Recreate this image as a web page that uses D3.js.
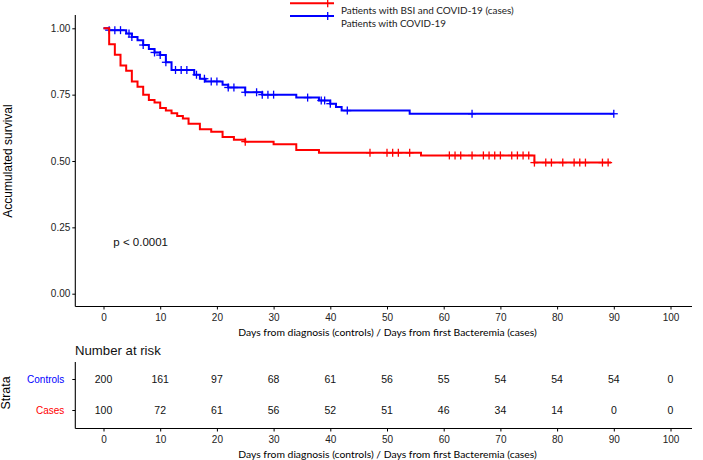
<!DOCTYPE html>
<html><head><meta charset="utf-8">
<script src="https://cdn.jsdelivr.net/npm/d3@7"></script>
<style>body{margin:0;background:#fff}svg{display:block}</style>
</head><body>
<svg id="c" width="703" height="460"></svg>
<script>
// ---- data ----
const casesTimes = [0,1,2,3,4,5,6,7,8,9,10,11,12,13,14,15,17,19,21,23,25,30,34,38,56,76,89.5];
const casesSurv  = [1,0.94,0.90,0.86,0.84,0.80,0.78,0.75,0.73,0.72,0.70,0.69,0.68,0.67,0.66,0.64,0.62,0.61,0.59,0.58,0.573,0.563,0.541,0.531,0.521,0.494,0.494];
const casesCensor = [25,47,50,51,52,54,61,62,63,65,67,68,69,70,72,73,74,75,76,78,79,81,83,84,85,88,89];

const ctrlTimes = [0,1,4,5,6,7,8,9,10,11,12,16,17,18,21,22,25,28,34,38,40,41,42,54,90];
const ctrlSurv  = [1,0.993,0.98,0.967,0.955,0.937,0.922,0.909,0.899,0.872,0.843,0.825,0.81,0.80,0.787,0.777,0.759,0.75,0.739,0.728,0.716,0.703,0.69,0.678,0.678];
const ctrlCensor = [1,2,3,4.5,5,7,9,10,11,12.7,13.7,14.7,16.4,17.8,19,20,22,23,25,27,28,29,30,36,38.4,39,40,43,65,90];

const xTicks = [0,10,20,30,40,50,60,70,80,90,100];
const yTicks = [0,0.25,0.5,0.75,1];
const riskControls = [200,161,97,68,61,56,55,54,54,54,0];
const riskCases    = [100,72,61,56,52,51,46,34,14,0,0];
const strata = ["Controls","Cases"];
const legendLabels = ["Patients with BSI and COVID-19 (cases)","Patients with COVID-19"];
const xTitle = "Days from diagnosis (controls) / Days from first Bacteremia (cases)";

// ---- layout ----
const RED = "#FF0000", BLUE = "#0000FF";
const svg = d3.select("#c");
const x = d3.scaleLinear().domain([0,100]).range([103.5,670.5]);
const y = d3.scaleLinear().domain([0,1]).range([293.7,28.3]);
const pL = 75.3, pR = 692, pT = 15, pB = 306.5;
const tickFont = "'Liberation Sans', Arial, sans-serif";
const calFont = "Lato, 'Open Sans', sans-serif";

function fitText(sel, w){
  const n = sel.node(); const fs = parseFloat(sel.attr("font-size"));
  const cur = n.getComputedTextLength();
  if (cur > 0) sel.attr("font-size", (fs*w/cur).toFixed(2));
}

// axes lines
svg.append("line").attr("x1",pL).attr("x2",pL).attr("y1",pT).attr("y2",pB).attr("stroke","#000").attr("stroke-width",1.1);
svg.append("line").attr("x1",pL).attr("x2",pR).attr("y1",pB).attr("y2",pB).attr("stroke","#000").attr("stroke-width",1.1);

const yAx = svg.append("g").attr("transform",`translate(${pL},0)`)
  .call(d3.axisLeft(y).tickValues(yTicks).tickFormat(d3.format(".2f")).tickSize(3).tickPadding(2));
yAx.select(".domain").remove();
yAx.selectAll("text").attr("font-family",tickFont).attr("font-size",10).attr("fill","#222");

const xAx = svg.append("g").attr("transform",`translate(0,${pB})`)
  .call(d3.axisBottom(x).tickValues(xTicks).tickSize(3).tickPadding(4));
xAx.select(".domain").remove();
xAx.selectAll("text").attr("font-family",tickFont).attr("font-size",10).attr("fill","#222");

// titles
svg.append("text").attr("transform","translate(12,161) rotate(-90)").attr("text-anchor","middle")
  .attr("font-family",tickFont).attr("font-size",12).text("Accumulated survival");
const xt1 = svg.append("text").attr("x",387.5).attr("y",335.5).attr("text-anchor","middle")
  .attr("font-family",calFont).attr("font-size",10.5).text(xTitle);
fitText(xt1, 299);

svg.append("text").attr("x",113.3).attr("y",245.5).attr("font-family",tickFont).attr("font-size",11.5).attr("fill","#111").text("p < 0.0001");

// curves
const line = d3.line().x(d=>x(d[0])).y(d=>y(d[1])).curve(d3.curveStepAfter);
function survAt(times, surv, t){ let v = surv[0]; for(let i=0;i<times.length;i++){ if(times[i]<=t) v=surv[i]; } return v; }
function drawCurve(times, surv, cens, col){
  const pts = times.map((t,i)=>[t,surv[i]]);
  svg.append("path").datum(pts).attr("d",line).attr("fill","none").attr("stroke",col).attr("stroke-width",2);
  const g = svg.append("g").attr("stroke",col).attr("stroke-width",1.3);
  cens.forEach(t=>{
    const cx = x(t), cy = y(survAt(times,surv,t));
    g.append("line").attr("x1",cx).attr("x2",cx).attr("y1",cy-4).attr("y2",cy+4);
    g.append("line").attr("x1",cx-4).attr("x2",cx+4).attr("y1",cy).attr("y2",cy);
  });
}
drawCurve(ctrlTimes, ctrlSurv, ctrlCensor, BLUE);
drawCurve(casesTimes, casesSurv, casesCensor, RED);

// legend
[[RED,3.3,legendLabels[0],173],[BLUE,16,legendLabels[1],105]].forEach(([col,ly,lab,w])=>{
  svg.append("line").attr("x1",290).attr("x2",334).attr("y1",ly).attr("y2",ly).attr("stroke",col).attr("stroke-width",2);
  svg.append("line").attr("x1",327.7).attr("x2",327.7).attr("y1",ly-4).attr("y2",ly+4).attr("stroke",col).attr("stroke-width",1.3);
  const t = svg.append("text").attr("x",341).attr("y",ly+10.5).attr("font-family",calFont).attr("font-size",11).attr("fill","#222").text(lab);
  fitText(t, w);
});

// ---- risk table ----
svg.append("text").attr("x",75).attr("y",355).attr("font-family",tickFont).attr("font-size",13.2).attr("fill","#111").text("Number at risk");
const rTop = 362, rBot = 428.5;
const ry = d3.scalePoint().domain(strata).range([379,410]);
svg.append("line").attr("x1",pL).attr("x2",pL).attr("y1",rTop).attr("y2",rBot).attr("stroke","#000").attr("stroke-width",1.1);
svg.append("line").attr("x1",pL).attr("x2",pR).attr("y1",rBot).attr("y2",rBot).attr("stroke","#000").attr("stroke-width",1.1);
const ryAx = svg.append("g").attr("transform",`translate(${pL},0)`).call(d3.axisLeft(ry).tickSize(3).tickPadding(8));
ryAx.select(".domain").remove();
ryAx.selectAll("text").attr("font-family",tickFont).attr("font-size",10).attr("fill",d=>d==="Controls"?BLUE:RED);
const rxAx = svg.append("g").attr("transform",`translate(0,${rBot})`)
  .call(d3.axisBottom(x).tickValues(xTicks).tickSize(3).tickPadding(4));
rxAx.select(".domain").remove();
rxAx.selectAll("text").attr("font-family",tickFont).attr("font-size",10).attr("fill","#222");
[[strata[0],riskControls],[strata[1],riskCases]].forEach(([s,vals])=>{
  svg.append("g").selectAll("text").data(vals).join("text")
    .attr("x",(d,i)=>x(xTicks[i])).attr("y",ry(s)).attr("dy","0.35em").attr("text-anchor","middle")
    .attr("font-family",tickFont).attr("font-size",10.5).attr("fill","#111").text(d=>d);
});
svg.append("text").attr("transform","translate(10,393) rotate(-90)").attr("text-anchor","middle")
  .attr("font-family",tickFont).attr("font-size",12.4).text("Strata");
const xt2 = svg.append("text").attr("x",387.5).attr("y",457.5).attr("text-anchor","middle")
  .attr("font-family",calFont).attr("font-size",10.5).text(xTitle);
fitText(xt2, 299);
</script>
</body></html>
